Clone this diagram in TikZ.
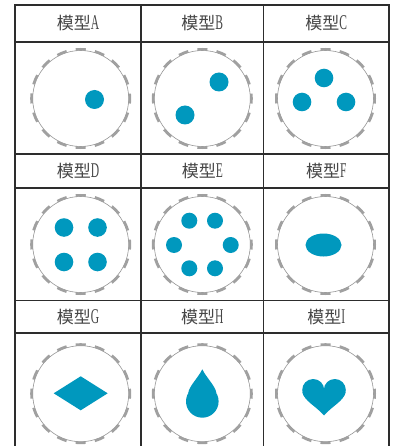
\documentclass[tikz,border=0pt]{standalone}
\usepackage{fontspec}
\newfontfamily\cjk{Noto Sans CJK SC}
\newfontfamily\latn[FakeStretch=0.55]{Liberation Serif}
\definecolor{dotc}{RGB}{0,152,190}
\definecolor{gridc}{RGB}{45,45,45}
\definecolor{ringc}{RGB}{150,150,150}
\definecolor{dashc}{RGB}{160,160,160}
\definecolor{textc}{RGB}{70,70,70}
\newcommand\myring[2]{%
  \draw[ringline] (#1,#2) circle[radius=48];
  \draw[ringdash] (#1,#2) circle[radius=49.2];}
\newcommand\ttl[1]{{\cjk 模型}{\latn\fontsize{21}{22}\selectfont #1}}
\begin{document}
\begin{tikzpicture}[x=1pt,y=-1pt,
  gridline/.style={draw=gridc,line width=1.8pt},
  ringline/.style={draw=ringc,line width=0.6pt},
  ringdash/.style={draw=dashc,line width=2.6pt,dash pattern=on 10pt off 9.32pt,dash phase=5pt},
  blob/.style={fill=dotc},
  title/.style={text=textc,inner sep=0pt,font=\fontsize{17}{20}\selectfont}]
\useasboundingbox (0,0) rectangle (394,446);
\fill[white] (0,0) rectangle (394,446);
% titles
\node[title] (tA) at (78,23.4) {\ttl{A}};
\node[title] (tB) at (202.3,23.4) {\ttl{B}};
\node[title] (tC) at (326.3,23.4) {\ttl{C}};
\node[title] (tD) at (78,171) {\ttl{D}};
\node[title] (tE) at (202.3,171) {\ttl{E}};
\node[title] (tF) at (326.3,171) {\ttl{F}};
\node[title] (tG) at (78,317) {\ttl{G}};
\node[title] (tH) at (202.3,317) {\ttl{H}};
\node[title] (tI) at (326.3,317) {\ttl{I}};
% rings
\myring{80.7}{98.5}
\myring{202.3}{98.5}
\myring{325.5}{98.5}
\myring{80.7}{244.5}
\myring{202.3}{244.5}
\myring{325.5}{244.5}
\myring{80.7}{393.7}
\myring{202.3}{393.7}
\myring{325.5}{393.7}
% A
\fill[blob] (94.5,99.5) circle[radius=9.5];
% B
\fill[blob] (219,82) circle[radius=9.5];
\fill[blob] (185,115) circle[radius=9.5];
% C
\fill[blob] (324,78) circle[radius=9.3];
\fill[blob] (302,102) circle[radius=9.3];
\fill[blob] (346,102) circle[radius=9.3];
% D
\fill[blob] (64,227.5) circle[radius=9.3];
\fill[blob] (97.5,227.5) circle[radius=9.3];
\fill[blob] (64,262) circle[radius=9.3];
\fill[blob] (97.5,262) circle[radius=9.3];
% E
\fill[blob] (189.3,220.7) circle[radius=8];
\fill[blob] (215,220.7) circle[radius=8];
\fill[blob] (174,245) circle[radius=8];
\fill[blob] (230.7,245) circle[radius=8];
\fill[blob] (189.3,268.3) circle[radius=8];
\fill[blob] (215,268.3) circle[radius=8];
% F
\fill[blob] (323.5,245) ellipse[x radius=18,y radius=11.5];
% G
\fill[blob] (53.7,393.3) -- (80.7,376.3) -- (107.7,393.3) -- (80.7,410.3) -- cycle;
% H
\fill[blob] (202.3,401.4) circle[radius=16.3];
\fill[blob] (202.3,369.3) .. controls (198,378) and (188.8,386.5) .. (188.25,393.1)
  -- (216.35,393.1) .. controls (215.8,386.5) and (206.6,378) .. cycle;
% I
\fill[blob] (313.2,390) circle[radius=11];
\fill[blob] (334.8,390) circle[radius=11];
\fill[blob] (302.4,392) .. controls (304,401) and (316,406) .. (324,415.5)
  .. controls (332,406) and (344,401) .. (345.6,392) -- (324,388) -- cycle;
% grid
\draw[gridline] (15,5) -- (389,5);
\draw[gridline] (15,41.7) -- (389,41.7);
\draw[gridline] (15,154) -- (389,154);
\draw[gridline] (15,188) -- (389,188);
\draw[gridline] (15,300.5) -- (389,300.5);
\draw[gridline] (15,333) -- (389,333);
\draw[gridline] (15,4.1) -- (15,447);
\draw[gridline] (141,4.1) -- (141,447);
\draw[gridline] (263.5,4.1) -- (263.5,447);
\draw[gridline] (389,4.1) -- (389,447);
\end{tikzpicture}
\end{document}
